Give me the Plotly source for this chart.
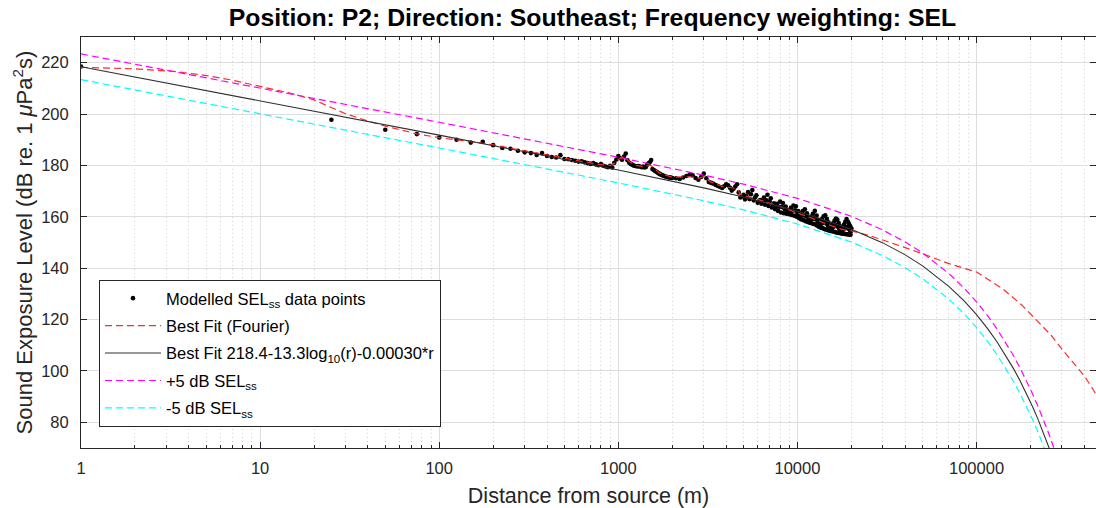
import plotly.graph_objects as go

# ---------------- data ----------------
# Modelled SEL_ss data points: distance (m) and level (dB)
data_r = [1] + list(range(25, 2001, 25)) + list(range(2100, 20001, 100))
data_sel = [
    218.5,
    # 25 .. 2000 step 25
    197.8, 193.9, 192.2, 190.9, 190.0, 188.9, 189.2, 187.9, 186.8, 186.5,
    185.7, 185.1, 184.8, 184.1, 184.8, 183.7, 183.3, 183.1, 184.0, 182.5,
    182.4, 182.1, 181.8, 181.5, 181.6, 181.2, 180.9, 180.6, 180.9, 180.4,
    180.1, 180.5, 179.9, 179.6, 179.3, 179.9, 179.2, 181.0, 182.3, 183.7,
    182.8, 182.2, 183.5, 184.6, 182.0, 181.0, 180.6, 180.2, 179.9, 179.8,
    179.6, 179.8, 179.5, 179.3, 179.6, 179.2, 179.4, 180.3, 180.8, 181.2,
    182.1, 178.6, 178.2, 177.9, 177.6, 177.3, 177.0, 176.7, 176.5, 176.3,
    176.1, 175.9, 175.8, 175.6, 175.5, 175.4, 175.3, 175.3, 175.2, 175.1,
    # 2100 .. 5000 step 100
    175.0, 174.7, 175.3, 175.9, 176.5, 176.2, 175.1, 174.4, 175.5, 176.8,
    175.0, 173.6, 173.2, 172.9, 172.4, 172.0, 171.6, 171.2, 171.9, 172.7,
    172.3, 171.3, 170.2, 170.9, 171.8, 172.7, 169.5, 167.5, 167.9, 168.6,
    # 5100 .. 20000 step 100
    166.8, 168.0, 169.6, 166.9, 168.8, 170.4, 166.4, 167.6, 168.4, 165.5,
    166.2, 166.5, 165.1, 166.1, 167.5, 164.7, 166.4, 168.6, 164.2, 166.0,
    167.2, 163.6, 164.7, 165.3, 163.0, 163.8, 165.1, 162.3, 163.9, 165.9,
    161.7, 163.8, 165.4, 161.4, 162.9, 164.0, 161.2, 162.1, 162.6, 161.0,
    162.1, 163.5, 160.7, 162.4, 164.4, 160.4, 162.5, 164.1, 160.0, 161.3,
    162.2, 159.5, 160.2, 161.3, 159.0, 160.4, 162.2, 158.7, 160.6, 162.9,
    158.3, 160.1, 161.4, 158.0, 159.1, 159.8, 157.7, 158.7, 160.1, 157.5,
    159.1, 161.2, 157.2, 159.6, 162.3, 157.0, 159.0, 160.5, 156.5, 157.9,
    158.8, 156.1, 156.8, 157.9, 155.8, 157.2, 159.1, 155.6, 157.7, 160.2,
    155.3, 158.1, 160.6, 155.1, 157.4, 159.2, 154.9, 156.6, 157.9, 154.7,
    155.8, 156.5, 154.5, 155.4, 156.6, 154.4, 155.8, 157.5, 154.3, 156.2,
    158.4, 154.1, 156.5, 159.3, 153.9, 156.7, 158.9, 153.8, 155.9, 157.6,
    153.7, 155.2, 156.3, 153.6, 154.5, 155.0, 153.5, 154.6, 156.0, 153.4,
    155.1, 157.0, 153.3, 155.5, 158.1, 153.3, 156.0, 159.1, 153.2, 155.9,
    158.2, 153.1, 155.4, 157.3, 153.1, 154.9, 156.4, 153.0, 154.4, 155.5,
]

# Best Fit (Fourier) curve
fourier_r = [1, 2, 3.3, 5, 7, 10, 15, 20, 25, 30, 40, 50, 75, 100, 150, 200,
             300, 400, 500, 600, 700, 800, 900, 950, 1000, 1050, 1100, 1150,
             1250, 1400, 1500, 1550, 1700, 2000, 2500, 2800, 3000, 3300, 3800,
             4200, 4600, 4800, 5000, 6000, 7000, 8000, 9000, 10000, 11000,
             12000, 13000, 14000, 15000, 16000, 17000, 18000, 19000, 20000,
             25000, 30000, 40000, 50000, 70000, 100000, 140000, 180000, 216000,
             260000, 300000, 350000, 400000, 450000, 500000]
fourier_sel = [218.2, 217.6, 216.6, 215.0, 213.2, 210.7, 208.0, 205.5, 202.6,
               200.1, 197.3, 195.3, 192.3, 190.8, 189.3, 188.0, 185.7, 184.0,
               182.8, 181.8, 181.0, 180.3, 180.0, 180.8, 182.3, 183.3, 183.0,
               181.5, 180.0, 179.5, 180.2, 179.5, 177.0, 175.4, 175.6, 175.0,
               175.6, 173.5, 171.8, 171.5, 171.0, 168.8, 168.3, 166.8, 165.4,
               164.0, 162.7, 161.6, 160.5, 159.5, 158.5, 157.6, 156.8, 156.1,
               155.5, 155.0, 154.7, 154.5, 152.8, 151.0, 148.0, 145.6, 141.8,
               138.5, 132.0, 125.5, 120.0, 114.0, 108.5, 103.0, 98.0, 92.5, 87.0]

# Best Fit 218.4-13.3log10(r)-0.00030*r and the +/-5 dB curves
fit_r = [1, 10, 100, 1000, 3000, 5000, 10000, 20000, 30000, 40000, 50000,
         70000, 85000, 100000, 115000, 130000, 145000, 160000, 175000, 190000,
         205000, 220000, 235000, 250000, 265000, 280000]
fit_sel = [218.4, 205.1, 191.8, 178.2, 171.25, 167.7, 162.2, 155.2, 149.85,
           145.19, 140.9, 132.95, 127.34, 121.9, 116.59, 111.39, 106.25,
           101.19, 96.17, 91.19, 86.25, 81.35, 76.47, 71.61, 66.77, 61.95]
plus5_sel = [223.4, 210.1, 196.8, 183.2, 176.25, 172.7, 167.2, 160.2, 154.85,
             150.19, 145.9, 137.95, 132.34, 126.9, 121.59, 116.39, 111.25,
             106.19, 101.17, 96.19, 91.25, 86.35, 81.47, 76.61, 71.77, 66.95]
minus5_sel = [213.4, 200.1, 186.8, 173.2, 166.25, 162.7, 157.2, 150.2, 144.85,
              140.19, 135.9, 127.95, 122.34, 116.9, 111.59, 106.39, 101.25,
              96.19, 91.17, 86.19, 81.25, 76.35, 71.47, 66.61, 61.77, 56.95]

x_tick_vals = [1, 10, 100, 1000, 10000, 100000]
x_tick_text = ["1", "10", "100", "1000", "10000", "100000"]
y_tick_vals = [80, 100, 120, 140, 160, 180, 200, 220]

title_text = "Position: P2; Direction: Southeast; Frequency weighting: SEL"

# ---------------- figure ----------------
FONT = "Liberation Sans, Arial, Helvetica, sans-serif"
AX = "#262626"
DASH = "7px,4px"

fig = go.Figure()
fig.add_trace(go.Scatter(
    x=data_r, y=data_sel, mode="markers", name="Modelled SEL<sub>ss</sub> data points",
    marker=dict(color="black", size=4.6, symbol="circle"), legendgroup="a"))
fig.add_trace(go.Scatter(
    x=fourier_r, y=fourier_sel, mode="lines", name="Best Fit (Fourier)",
    line=dict(color="#ff2a2a", width=1.2, dash=DASH), legendgroup="b"))
fig.add_trace(go.Scatter(
    x=fit_r, y=fit_sel, mode="lines",
    name="Best Fit 218.4-13.3log<sub>10</sub>(r)-0.00030*r",
    line=dict(color="#303030", width=1.1), legendgroup="c"))
fig.add_trace(go.Scatter(
    x=fit_r, y=plus5_sel, mode="lines", name="+5 dB SEL<sub>ss</sub>",
    line=dict(color="#ff00ff", width=1.2, dash=DASH), legendgroup="d"))
fig.add_trace(go.Scatter(
    x=fit_r, y=minus5_sel, mode="lines", name="-5 dB SEL<sub>ss</sub>",
    line=dict(color="#00ffff", width=1.2, dash=DASH), legendgroup="e"))

minor_vals = [m * 10 ** k for k in range(0, 6) for m in range(2, 10)]

fig.update_layout(
    width=1096, height=508,
    margin=dict(l=81, r=0, t=37, b=60),
    paper_bgcolor="white", plot_bgcolor="white",
    font=dict(family=FONT, color=AX, size=16.5),
    title=dict(text="<b>" + title_text + "</b>", x=0.5406, xanchor="center",
               y=0.965, yanchor="middle", font=dict(size=24.8, color="black")),
    legend=dict(x=0.0177, xanchor="left", y=0.409, yanchor="top",
                bgcolor="white", bordercolor="#262626", borderwidth=1,
                font=dict(size=16.5, color="black"), itemwidth=56,
                tracegroupgap=3),
    showlegend=True,
)
fig.update_xaxes(
    type="log", range=[0, 5.667], automargin=False,
    tickvals=x_tick_vals, ticktext=x_tick_text,
    ticks="inside", ticklen=6, tickcolor=AX, tickwidth=1,
    showline=True, linecolor=AX, linewidth=1, mirror="ticks",
    showgrid=True, gridcolor="#dedede", gridwidth=1,
    minor=dict(tickvals=minor_vals, ticks="inside", ticklen=3, tickcolor=AX,
               showgrid=True, gridcolor="#d0d0d0", griddash="1px,3px", gridwidth=1),
    ticklabelstandoff=5,
    title=dict(text="Distance from source (m)", font=dict(size=21.5), standoff=14),
    zeroline=False,
)
fig.update_yaxes(
    range=[70, 230], automargin=False, tickvals=y_tick_vals,
    ticks="inside", ticklen=6, tickcolor=AX, tickwidth=1,
    showline=True, linecolor=AX, linewidth=1, mirror="ticks",
    showgrid=True, gridcolor="#dedede", gridwidth=1,
    ticklabelstandoff=8,
    title=dict(text="Sound Exposure Level (dB re. 1 <i>μ</i>Pa<sup>2</sup>s)",
               font=dict(size=22), standoff=2),
    zeroline=False,
)

# remove the browser's default 8px body margin so the figure fills the window
fig.write_html("out.html",
               config={"displayModeBar": False},
               post_script="document.body.style.margin='0';"
                           "document.body.style.overflow='hidden';")
